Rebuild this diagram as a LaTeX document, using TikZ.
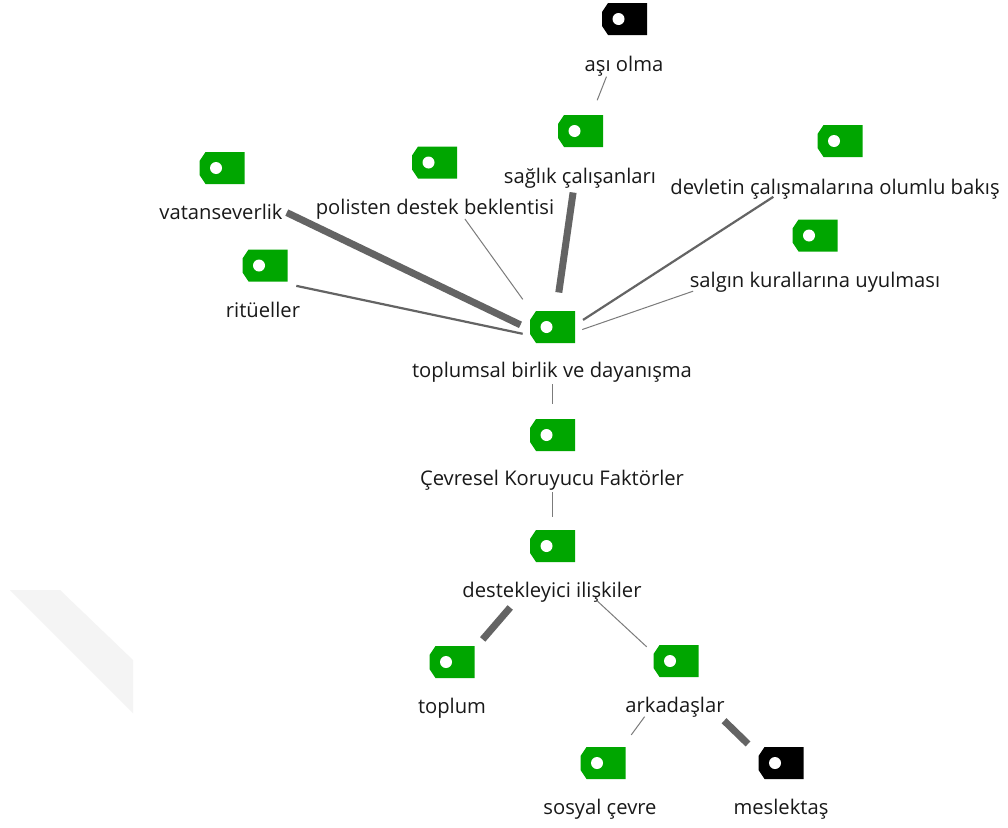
\documentclass[tikz,border=0pt]{standalone}
\usepackage{fontspec}
\setmainfont{Open Sans}
\definecolor{tgreen}{RGB}{0,166,0}
\definecolor{edgec}{RGB}{100,100,100}
\definecolor{wm}{RGB}{244,244,244}
\begin{document}
\begin{tikzpicture}[x=1pt,y=-1pt,
  tagg/.style={minimum width=45pt, minimum height=32pt, inner sep=0pt, outer sep=0pt,
    path picture={
      \fill[#1] ([yshift=-9pt]path picture bounding box.north west)
        -- ([xshift=6pt]path picture bounding box.north west)
        -- (path picture bounding box.north east)
        -- (path picture bounding box.south east)
        -- ([xshift=6pt]path picture bounding box.south west)
        -- ([yshift=9pt]path picture bounding box.south west) -- cycle;
      \fill[white] ([xshift=16.5pt]path picture bounding box.west) circle (6pt);
    }},
  tagg/.default=tgreen,
  lbl/.style={anchor=base, inner sep=0pt, font=\fontsize{20.2}{24}\selectfont, text=black!90},
  thinE/.style={draw=edgec!85, line width=1pt},
  midE/.style={draw=edgec, line width=2.2pt},
  thickE/.style={draw=edgec, line width=7pt}
]
\useasboundingbox (0,0) rectangle (1008,827);
\fill[white] (0,0) rectangle (1008,827);
% watermark band
\fill[wm] (10,590) -- (60,590) -- (133,660) -- (133,713) -- cycle;

% tags
\node[tagg=black] (t-asi) at (624.5,19) {};
\node[tagg] (t-sag) at (580.5,131) {};
\node[tagg] (t-vat) at (222,168) {};
\node[tagg] (t-pol) at (434.5,162.5) {};
\node[tagg] (t-rit) at (265,265.5) {};
\node[tagg] (t-dev) at (840,141) {};
\node[tagg] (t-sal) at (815,235.5) {};
\node[tagg] (t-top) at (552.5,327) {};
\node[tagg] (t-cev) at (552.5,435) {};
\node[tagg] (t-des) at (552.5,546) {};
\node[tagg] (t-topl) at (452,662) {};
\node[tagg] (t-ark) at (676,661) {};
\node[tagg] (t-sos) at (603,763) {};
\node[tagg=black] (t-mes) at (781,763) {};

% labels
\node[lbl] (l-asi) at (624,71) {aşı olma};
\node[lbl] (l-sag) at (580,183) {sağlık çalışanları};
\node[lbl] (l-vat) at (221,219) {vatanseverlik};
\node[lbl] (l-pol) at (435,214) {polisten destek beklentisi};
\node[lbl] (l-rit) at (263,317) {ritüeller};
\node[lbl] (l-dev) at (835,194) {devletin çalışmalarına olumlu bakış};
\node[lbl] (l-sal) at (815,287) {salgın kurallarına uyulması};
\node[lbl] (l-top) at (552,377) {toplumsal birlik ve dayanışma};
\node[lbl] (l-cev) at (552,485) {Çevresel Koruyucu Faktörler};
\node[lbl] (l-des) at (552,597) {destekleyici ilişkiler};
\node[lbl] (l-topl) at (452,713) {toplum};
\node[lbl] (l-ark) at (675,712) {arkadaşlar};
\node[lbl] (l-sos) at (600,814) {sosyal çevre};
\node[lbl] (l-mes) at (781,814) {meslektaş};

% group centres
\coordinate (c-asi) at (624,32);
\coordinate (c-sag) at (580,144);
\coordinate (c-vat) at (221,181);
\coordinate (c-pol) at (434,176);
\coordinate (c-rit) at (264,279);
\coordinate (c-dev) at (838,155);
\coordinate (c-sal) at (815,249);
\coordinate (c-top) at (552,340);
\coordinate (c-cev) at (552,447);
\coordinate (c-des) at (552,559);
\coordinate (c-topl) at (452,675);
\coordinate (c-ark) at (676,674);
\coordinate (c-sos) at (601,776);
\coordinate (c-mes) at (781,776);

% connectors
\draw[thinE, shorten <=48pt, shorten >=47pt] (c-asi) -- (c-sag);
\draw[thickE, shorten <=49pt, shorten >=48pt] (c-sag) -- (c-top);
\draw[thickE, shorten <=73pt, shorten >=35pt] (c-vat) -- (c-top);
\draw[thinE, shorten <=53pt, shorten >=50pt] (c-pol) -- (c-top);
\draw[midE, shorten <=33pt, shorten >=30pt] (c-rit) -- (c-top);
\draw[midE, shorten <=77pt, shorten >=37pt] (c-dev) -- (c-top);
\draw[thinE, shorten <=129pt, shorten >=32pt] (c-sal) -- (c-top);
\draw[thinE, shorten <=44pt, shorten >=43pt] (c-top) -- (c-cev);
\draw[thinE, shorten <=45pt, shorten >=42pt] (c-cev) -- (c-des);
\draw[thickE, shorten <=64pt, shorten >=47pt] (c-des) -- (c-topl);
\draw[thinE, shorten <=62pt, shorten >=40pt] (c-des) -- (c-ark);
\draw[thinE, shorten <=53pt, shorten >=51pt] (c-ark) -- (c-sos);
\draw[thickE, shorten <=67pt, shorten >=46pt] (c-ark) -- (c-mes);
\end{tikzpicture}
\end{document}
